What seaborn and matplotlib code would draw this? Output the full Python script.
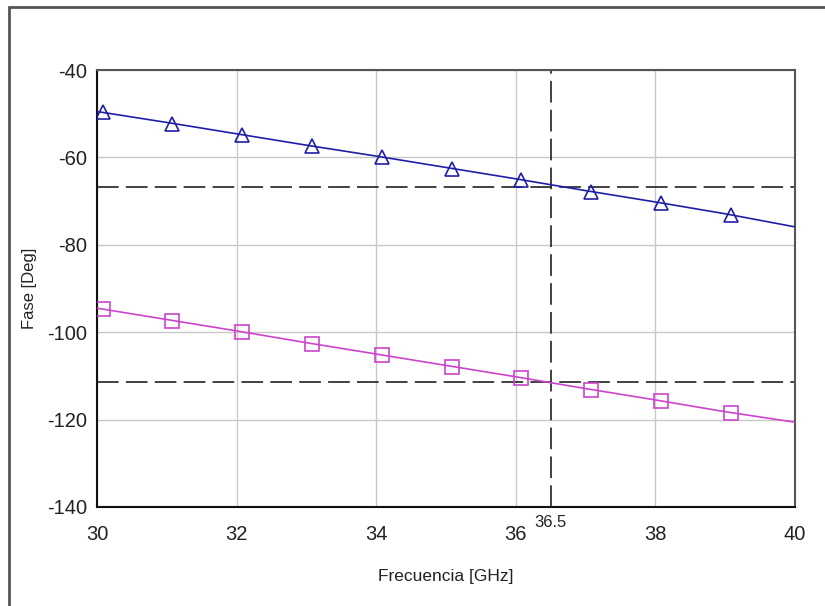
import matplotlib
matplotlib.use("Agg")
import matplotlib.pyplot as plt
import matplotlib.patches as mpatches
import matplotlib.transforms as mtransforms
import seaborn as sns
import pandas as pd

# ---- data ----
freq_line = [30, 31, 32, 33, 34, 35, 36, 37, 38, 39, 40]
fase_blue = [-49.5, -52.0, -54.6, -57.2, -59.7, -62.3, -64.9, -67.6, -70.2, -72.9, -75.9]
fase_mag = [-94.5, -97.1, -99.7, -102.4, -105.0, -107.6, -110.2, -112.9, -115.5, -118.2, -120.6]

freq_mark = [30.08, 31.08, 32.08, 33.08, 34.08, 35.08, 36.08, 37.08, 38.08, 39.08]
mark_blue = [-49.7, -52.3, -54.9, -57.5, -60.0, -62.6, -65.2, -67.9, -70.5, -73.2]
mark_mag = [-94.8, -97.4, -100.0, -102.7, -105.3, -107.9, -110.5, -113.2, -115.8, -118.5]

x_marker = 36.5
y_marker_blue = -66.8
y_marker_mag = -111.5

x_ticks = [30, 32, 34, 36, 38, 40]
y_ticks = [-140, -120, -100, -80, -60, -40]

blue = "#1f1fa6"
mag = "#cc44cc"

sns.set_theme(style="white")
plt.rcParams['font.family'] = ['Liberation Sans', 'DejaVu Sans']
plt.rcParams['axes.unicode_minus'] = False

fig = plt.figure(figsize=(8.25, 6.06), dpi=100)
ax = fig.add_axes([97/825, 1-507/606, (795-97)/825, (507-70)/606])

df_line = pd.DataFrame({"f": freq_line, "b": fase_blue, "m": fase_mag})
df_mark = pd.DataFrame({"f": freq_mark, "b": mark_blue, "m": mark_mag})

# grid
ax.set_xticks(x_ticks)
ax.set_yticks(y_ticks)
ax.grid(True, color="#c8c8c8", linewidth=1.0)
ax.set_axisbelow(True)

# reference dashed lines
dash = dict(color="#333333", linewidth=1.3, dashes=(12, 4), zorder=2)
ax.axhline(y_marker_blue, **dash)
ax.axhline(y_marker_mag, **dash)
ax.axvline(x_marker, **dash)

sns.lineplot(data=df_line, x="f", y="b", ax=ax, color=blue, linewidth=1.2, zorder=3)
sns.lineplot(data=df_line, x="f", y="m", ax=ax, color=mag, linewidth=1.2, zorder=3)
sns.lineplot(data=df_mark, x="f", y="b", ax=ax, color=blue, linestyle="none",
             marker="^", markersize=10, markerfacecolor="none",
             markeredgecolor=blue, markeredgewidth=1.2, zorder=4)
sns.lineplot(data=df_mark, x="f", y="m", ax=ax, color=mag, linestyle="none",
             marker="s", markersize=10, markerfacecolor="none",
             markeredgecolor=mag, markeredgewidth=1.2, zorder=4)

ax.set_xlim(30, 40)
ax.set_ylim(-140, -40)
ax.tick_params(axis="both", length=0, labelsize=14.5, colors="#222222")
ax.tick_params(axis="x", pad=13)
ax.tick_params(axis="y", pad=7)
ax.set_xlabel("Frecuencia [GHz]", fontsize=12.5, color="#222222")
ax.set_ylabel("Fase [Deg]", fontsize=12, color="#222222")
ax.xaxis.set_label_coords(0.5, -0.142)
ax.yaxis.set_label_coords(-0.086, 0.5)

for side in ["top", "right"]:
    ax.spines[side].set_color("#555555")
    ax.spines[side].set_linewidth(1.5)
for side in ["left", "bottom"]:
    ax.spines[side].set_color("#111111")
    ax.spines[side].set_linewidth(1.5)

# marker label 36.5
trans = mtransforms.blended_transform_factory(ax.transData, ax.transAxes)
ax.text(x_marker, -0.018, "36.5", transform=trans, ha="center", va="top",
        fontsize=12, color="#222222")

# outer frame
fig.patches.append(mpatches.Rectangle((9/825, -0.05), 1.2, 1 - 7/606 + 0.05,
                                      transform=fig.transFigure, fill=False,
                                      edgecolor="#555555", linewidth=2))

fig.savefig("out.png", dpi=100)
